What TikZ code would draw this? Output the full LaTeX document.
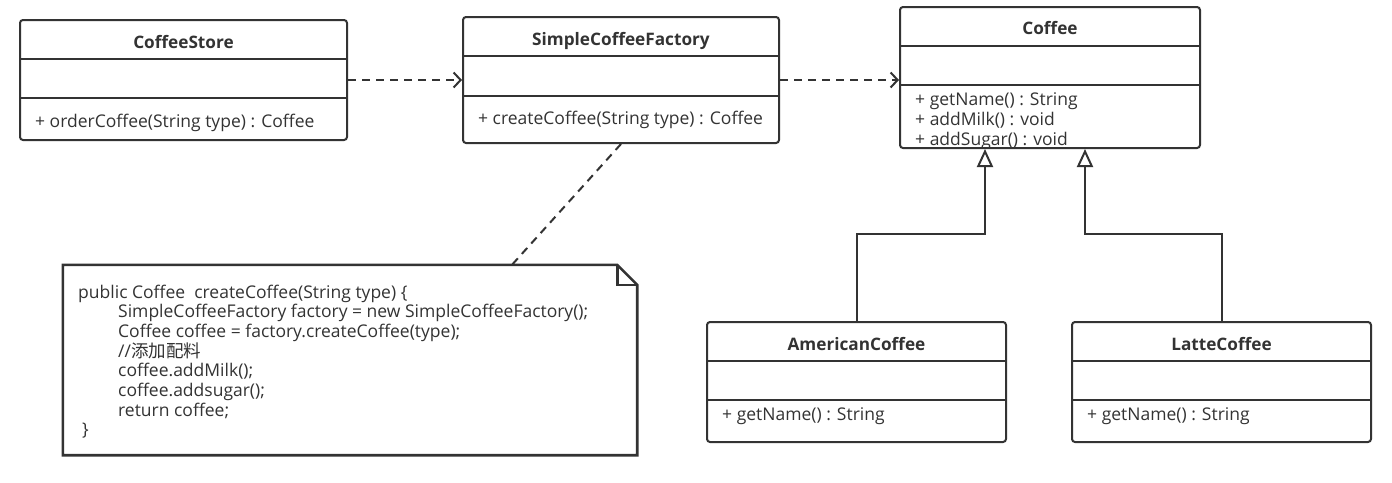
\documentclass[tikz,border=0pt]{standalone}
\usepackage{fontspec}
\setmainfont{Open Sans}
\newfontfamily\cjk{Noto Sans CJK SC}
\usetikzlibrary{arrows.meta,fit,calc}
\definecolor{ln}{HTML}{333333}
\definecolor{tx}{HTML}{333333}
\tikzset{
  box/.style={draw=ln, line width=2pt, rounded corners=3pt, inner sep=0pt},
  sepline/.style={draw=ln, line width=2pt},
  hdr/.style={font=\fontsize{17.2}{20}\selectfont\bfseries, text=tx, inner sep=0pt, anchor=base},
  mth/.style={font=\fontsize{17.5}{20}\selectfont, text=tx, inner sep=0pt, anchor=base west},
  ntxt/.style={font=\fontsize{17.5}{20}\selectfont, text=tx, inner sep=0pt, anchor=base west},
  dep/.style={draw=ln, line width=2pt, dash pattern=on 8pt off 6pt, -{Straight Barb[length=7pt,width=15pt]}},
  dashline/.style={draw=ln, line width=2pt, dash pattern=on 8pt off 6pt},
  inh/.style={draw=ln, line width=2pt, -{Triangle[open, fill=white, length=18pt, width=16pt]}},
  notel/.style={draw=ln, line width=2.6pt, line join=miter}
}
\begin{document}
\begin{tikzpicture}[x=1pt,y=-1pt]
\useasboundingbox (0,0) rectangle (1392,482);
\fill[white] (0,0) rectangle (1392,482);

% CoffeeStore
\node[box, fit={(20,20)(347,140)}] (store) {};
\draw[sepline] (store.west |- 0,59) -- (store.east |- 0,59);
\draw[sepline] (store.west |- 0,98) -- (store.east |- 0,98);
\node[hdr] (storeT) at (183.5,48) {CoffeeStore};
\node[mth] (storeM) at (35,127) {+ orderCoffee(String type) : Coffee};

% SimpleCoffeeFactory
\node[box, fit={(463,17)(779,143)}] (factory) {};
\draw[sepline] (factory.west |- 0,56) -- (factory.east |- 0,56);
\draw[sepline] (factory.west |- 0,96) -- (factory.east |- 0,96);
\node[hdr] (factoryT) at (621,45) {SimpleCoffeeFactory};
\node[mth] (factoryM) at (478,124) {+ createCoffee(String type) : Coffee};

% Coffee
\begin{scope}
\clip (900,85) rectangle (1200,147);
\node[mth] (coffeeM1) at (915,105) {+ getName() : String};
\node[mth] (coffeeM2) at (915,125) {+ addMilk() : void};
\node[mth] (coffeeM3) at (915,145) {+ addSugar() : void};
\end{scope}
\node[box, fit={(900,7)(1200,148)}] (coffee) {};
\draw[sepline] (coffee.west |- 0,46) -- (coffee.east |- 0,46);
\draw[sepline] (coffee.west |- 0,85) -- (coffee.east |- 0,85);
\node[hdr] (coffeeT) at (1050,34) {Coffee};

% AmericanCoffee
\node[box, fit={(707,322)(1006,442)}] (american) {};
\draw[sepline] (american.west |- 0,361) -- (american.east |- 0,361);
\draw[sepline] (american.west |- 0,400) -- (american.east |- 0,400);
\node[hdr] (americanT) at (856.5,350) {AmericanCoffee};
\node[mth] (americanM) at (722,420) {+ getName() : String};

% LatteCoffee
\node[box, fit={(1072,322)(1371,442)}] (latte) {};
\draw[sepline] (latte.west |- 0,361) -- (latte.east |- 0,361);
\draw[sepline] (latte.west |- 0,400) -- (latte.east |- 0,400);
\node[hdr] (latteT) at (1221.5,350) {LatteCoffee};
\node[mth] (latteM) at (1087,420) {+ getName() : String};

% Note
\node[fit={(63,265)(637,455)}, inner sep=0pt] (note) {};
\draw[notel, fill=white] (note.north west) -- ([xshift=-20pt]note.north east) -- ([yshift=-20pt]note.north east) -- (note.south east) -- (note.south west) -- cycle;
\draw[notel] ([xshift=-20pt]note.north east) -- ([xshift=-20pt,yshift=-20pt]note.north east) -- ([yshift=-20pt]note.north east);
\node[ntxt] (n1) at (78,298) {public Coffee\ \ createCoffee(String type) \{};
\node[ntxt] (n2) at (118,317.7) {SimpleCoffeeFactory factory = new SimpleCoffeeFactory();};
\node[ntxt] (n3) at (118,337.4) {Coffee coffee = factory.createCoffee(type);};
\node[ntxt] (n4) at (118,357.1) {//{\cjk 添加配料}};
\node[ntxt] (n5) at (118,376.8) {coffee.addMilk();};
\node[ntxt] (n6) at (118,396.5) {coffee.addsugar();};
\node[ntxt] (n7) at (118,416.2) {return coffee;};
\node[ntxt] (n8) at (82,435.9) {\}};

% Connectors
\draw[dep] (store.east) -- (factory.west);
\draw[dep] (factory.east) -- (factory.east -| coffee.west);
\draw[dashline] (factory.south) -- ([xshift=162pt]note.north);
\coordinate (ka) at (985,234);
\coordinate (kb) at (1085,233.5);
\draw[inh] (american.north) |- (ka) -- (ka |- coffee.south);
\draw[inh] (latte.north) |- (kb) -- (kb |- coffee.south);
\end{tikzpicture}
\end{document}
